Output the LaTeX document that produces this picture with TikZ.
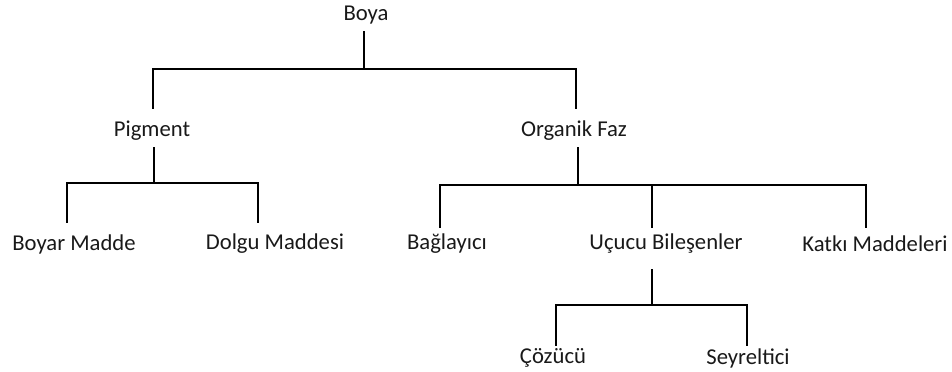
\documentclass[tikz,border=0pt]{standalone}
\usepackage{fontspec}
\setmainfont{Carlito}
\begin{document}
\begin{tikzpicture}[x=0.75pt,y=-0.75pt,
  lbl/.style={inner sep=0pt,font=\fontsize{17}{20}\selectfont,text=black!90},
  link/.style={line width=2.2pt,line cap=rect,line join=miter}]
\useasboundingbox (0,0) rectangle (952,371);
% labels
\node[lbl] (boya) at (366,15) {Boya};
\node[lbl] (pig) at (152,131) {Pigment};
\node[lbl] (org) at (574,131) {Organik Faz};
\node[lbl] (boyar) at (74,244) {Boyar Madde};
\node[lbl] (dolgu) at (275,244) {Dolgu Maddesi};
\node[lbl] (bag) at (447,244) {Bağlayıcı};
\node[lbl] (ucucu) at (666,244) {Uçucu Bileşenler};
\node[lbl] (katki) at (875,244) {Katkı Maddeleri};
\node[lbl] (cozucu) at (553,358) {Çözücü};
\node[lbl] (seyr) at (748,358) {Seyreltici};
% junction points
\coordinate (b0) at (364,32);
\coordinate (b1) at (364,69);
\coordinate (bl) at (153,69);
\coordinate (br) at (576,69);
\coordinate (bld) at (153,108);
\coordinate (brd) at (576,108);
\coordinate (p0) at (154,148);
\coordinate (p1) at (154,183);
\coordinate (pl) at (67,183);
\coordinate (pr) at (258,183);
\coordinate (pld) at (67,222);
\coordinate (prd) at (258,222);
\coordinate (o0) at (578,148);
\coordinate (o1) at (578,185);
\coordinate (ol) at (440,185);
\coordinate (om) at (652,185);
\coordinate (or) at (866,185);
\coordinate (old) at (440,227);
\coordinate (omd) at (652,227);
\coordinate (ord) at (866,227);
\coordinate (u0) at (652,270);
\coordinate (u1) at (652,305);
\coordinate (ul) at (556,305);
\coordinate (ur) at (747,305);
\coordinate (uld) at (556,345);
\coordinate (urd) at (747,345);
% connectors
\draw[link] (b0) -- (b1);
\draw[link] (bld) -- (bl) -- (br) -- (brd);
\draw[link] (p0) -- (p1);
\draw[link] (pld) -- (pl) -- (pr) -- (prd);
\draw[link] (o0) -- (o1);
\draw[link] (old) -- (ol) -- (or) -- (ord);
\draw[link] (om) -- (omd);
\draw[link] (u0) -- (u1);
\draw[link] (uld) -- (ul) -- (ur) -- (urd);
\end{tikzpicture}
\end{document}
